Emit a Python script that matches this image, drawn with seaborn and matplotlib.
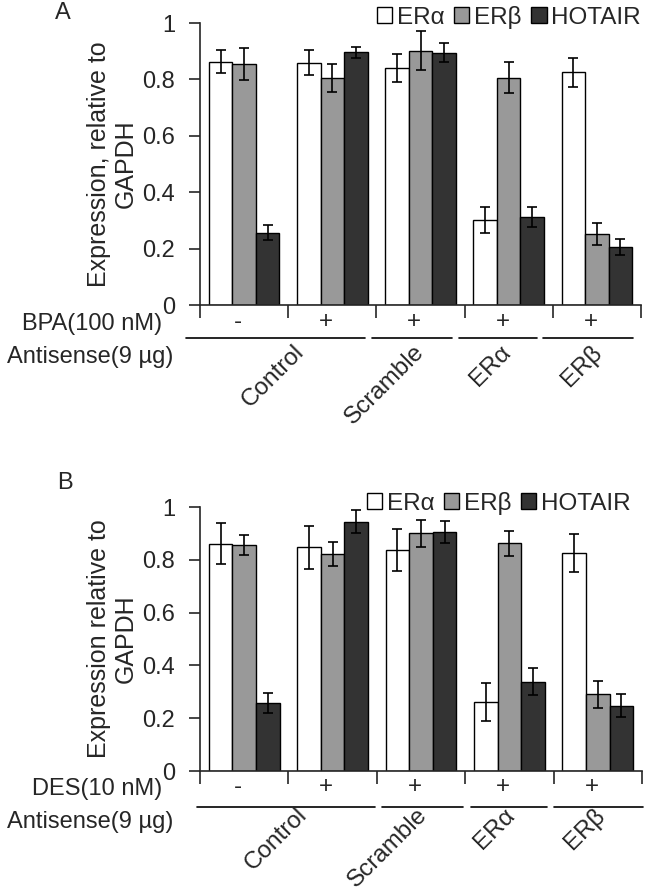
import matplotlib
matplotlib.use('Agg')
import matplotlib.pyplot as plt
import matplotlib.transforms as mtransforms
import seaborn as sns
import pandas as pd

# groups along the x axis (treatment + antisense)
groups = ['ctrl-', 'ctrl+', 'scramble', 'as_era', 'as_erb']
genes = ['ERα', 'ERβ', 'HOTAIR']
signs = ['-', '+', '+', '+', '+']
antisense = ['Control', 'Scramble', 'ERα', 'ERβ']

# panel A (BPA)
a_era = [0.863, 0.859, 0.841, 0.302, 0.825]
a_erb = [0.854, 0.806, 0.902, 0.806, 0.252]
a_hot = [0.257, 0.896, 0.895, 0.311, 0.206]
a_era_err = [0.040, 0.044, 0.050, 0.045, 0.052]
a_erb_err = [0.057, 0.050, 0.068, 0.054, 0.040]
a_hot_err = [0.027, 0.020, 0.035, 0.035, 0.027]

# panel B (DES)
b_era = [0.861, 0.847, 0.837, 0.261, 0.826]
b_erb = [0.856, 0.822, 0.900, 0.863, 0.290]
b_hot = [0.257, 0.945, 0.905, 0.339, 0.247]
b_era_err = [0.078, 0.080, 0.078, 0.073, 0.071]
b_erb_err = [0.038, 0.047, 0.052, 0.047, 0.052]
b_hot_err = [0.038, 0.043, 0.043, 0.050, 0.044]

palette = {'ERα': 'white', 'ERβ': '#999999', 'HOTAIR': '#333333'}

sns.set_style('ticks')
plt.rcParams['font.family'] = ['Liberation Sans', 'DejaVu Sans']

W, H = 649, 893
FS = 17.5
fig = plt.figure(figsize=(W / 100, H / 100), dpi=100)


def fy(y):
    return 1 - y / H


def to_long(era, erb, hot):
    rows = []
    for g, vals in zip(genes, [era, erb, hot]):
        for grp, v in zip(groups, vals):
            rows.append({'group': grp, 'gene': g, 'value': v})
    return pd.DataFrame(rows)


def draw_panel(rect, vals, errs, letter, ylabel, treat, spans, label_x,
               y_sign, y_line, y_anti, y_lab, leg_anchor, letter_xy):
    ax = fig.add_axes(rect)
    df = to_long(*vals)
    sns.barplot(data=df, x='group', y='value', hue='gene', order=groups,
                hue_order=genes, palette=palette, edgecolor='black',
                linewidth=1, errorbar=None, width=0.8, ax=ax)
    # error bars on top of each bar
    for cont, err in zip(ax.containers, errs):
        xs = [b.get_x() + b.get_width() / 2 for b in cont]
        hs = [b.get_height() for b in cont]
        ax.errorbar(xs, hs, yerr=err, fmt='none', ecolor='black',
                    elinewidth=1.2, capsize=3.5, capthick=1.2)
    ax.set_xlim(-0.5, 4.5)
    ax.set_ylim(0, 1)
    ax.set_yticks([0, 0.2, 0.4, 0.6, 0.8, 1.0])
    ax.set_yticklabels(['0', '0.2', '0.4', '0.6', '0.8', '1'])
    ax.set_xticks([i - 0.5 for i in range(6)])
    ax.set_xticklabels([])
    ax.set_xlabel('')
    ax.set_ylabel(ylabel, fontsize=18, linespacing=1.15, labelpad=3)
    ax.tick_params(axis='y', labelsize=17, length=8, width=1.2,
                   direction='out', pad=10)
    ax.tick_params(axis='x', length=9, width=1.2, direction='out')
    sns.despine(ax=ax)
    for s in ['left', 'bottom']:
        ax.spines[s].set_linewidth(1.2)

    leg = ax.legend(loc='center right', bbox_to_anchor=leg_anchor, ncol=3,
                    frameon=False, fontsize=17.5, handlelength=0.62,
                    handleheight=0.62, handletextpad=0.2, columnspacing=0.4,
                    borderpad=0, borderaxespad=0)
    for h in leg.legend_handles:
        h.set_edgecolor('black')

    tr = mtransforms.blended_transform_factory(ax.transData, fig.transFigure)
    for i, s in enumerate(signs):
        ax.text(i - 0.07, fy(y_sign), s, transform=tr, ha='center',
                va='center', fontsize=FS)
    for x0, x1 in spans:
        ax.plot([x0, x1], [fy(y_line), fy(y_line)], transform=tr,
                color='black', lw=1.2, clip_on=False)
    for x, lab in zip(label_x, antisense):
        ax.text(x, fy(y_lab), lab, transform=tr, rotation=45, ha='right',
                va='top', rotation_mode='anchor', fontsize=FS)
    fig.text(162 / W, fy(y_sign + 2), treat, ha='right', va='center',
             fontsize=17)
    fig.text(173 / W, fy(y_anti), 'Antisense(9 µg)', ha='right', va='center',
             fontsize=17)
    fig.text(letter_xy[0] / W, fy(letter_xy[1]), letter, ha='center',
             va='center', fontsize=17)
    return ax


draw_panel([200 / W, fy(305), 441 / W, 282 / H],
           [a_era, a_erb, a_hot], [a_era_err, a_erb_err, a_hot_err],
           'A', 'Expression, relative to\nGAPDH', 'BPA(100 nM)',
           [(-0.66, 1.37), (1.45, 2.36), (2.44, 3.32), (3.39, 4.41)],
           [0.55, 1.92, 2.9, 3.93],
           322, 338, 357, 341, (1.0, 1.02), (63, 13))

draw_panel([200 / W, fy(771), 442 / W, 264 / H],
           [b_era, b_erb, b_hot], [b_era_err, b_erb_err, b_hot_err],
           'B', 'Expression relative to\nGAPDH', 'DES(10 nM)',
           [(-0.53, 1.48), (1.56, 2.48), (2.56, 3.43), (3.51, 4.51)],
           [0.58, 1.95, 2.94, 3.95],
           787, 807, 822, 804, (0.975, 1.015), (65, 483))

fig.savefig('out.png', dpi=100)
